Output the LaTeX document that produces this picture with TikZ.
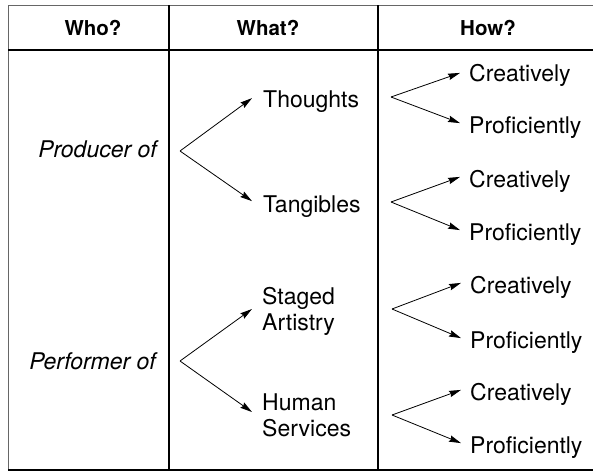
\documentclass[tikz,border=0pt]{standalone}
\usepackage{fontspec}
\setmainfont{TeX Gyre Heros}
\usetikzlibrary{arrows.meta}
\begin{document}
\begin{tikzpicture}[x=1pt,y=-1pt,
  body/.style={inner sep=0pt,font=\fontsize{23}{26}\selectfont},
  bodyit/.style={body,font=\fontsize{23}{26}\selectfont\itshape},
  head/.style={inner sep=0pt,anchor=base,font=\fontsize{20.5}{24}\selectfont\bfseries},
  arr/.style={-{Stealth[length=12pt,width=6.5pt,inset=1.5pt]},line width=0.8pt},
  frame/.style={line width=1.1pt},
  faint/.style={line width=1pt,black!60}
]
\useasboundingbox (0,0) rectangle (593,471);
% frame
\draw[faint] (8,5) -- (593,5);
\draw[faint] (8,5) -- (8,470);
\draw[frame] (8,50) -- (593,50);
\draw[frame] (8,470) -- (593,470);
\draw[frame] (169,5) -- (169,470);
\draw[frame] (378,5) -- (378,470);
% headers
\node[head] (who) at (93,35) {Who?};
\node[head] (what) at (268,35) {What?};
\node[head] (how) at (488,35) {How?};
% who
\node[bodyit,anchor=base east] (prod) at (157,157) {Producer of};
\node[bodyit,anchor=base east] (perf) at (156,369) {Performer of};
% what
\node[body,anchor=base west] (thoughts) at (263,107) {Thoughts};
\node[body,anchor=base west] (tang) at (263,212) {Tangibles};
\node[body,anchor=west,align=left] (staged) at (262,311) {Staged\\Artistry};
\node[body,anchor=west,align=left] (human) at (262,415) {Human\\Services};
% how
\node[body,anchor=base west] (c1) at (469,81) {Creatively};
\node[body,anchor=base west] (p1) at (469,133) {Proficiently};
\node[body,anchor=base west] (c2) at (469,187) {Creatively};
\node[body,anchor=base west] (p2) at (469,240) {Proficiently};
\node[body,anchor=base west] (c3) at (470,293) {Creatively};
\node[body,anchor=base west] (p3) at (470,348) {Proficiently};
\node[body,anchor=base west] (c4) at (470,400) {Creatively};
\node[body,anchor=base west] (p4) at (470,453) {Proficiently};
% fork points
\coordinate (fp) at (180,151);
\coordinate (fq) at (180,361);
\coordinate (f1) at (391,97);
\coordinate (f2) at (391,202);
\coordinate (f3) at (392,309);
\coordinate (f4) at (392,415);
% arrows
\draw[arr] (fp) -- ([xshift=-11pt,yshift=3pt]thoughts.west);
\draw[arr] (fp) -- ([xshift=-11pt,yshift=5pt]tang.west);
\draw[arr] (fq) -- ([xshift=-10pt,yshift=2pt]staged.west);
\draw[arr] (fq) -- ([xshift=-10pt,yshift=3pt]human.west);
\draw[arr] (f1) -- ([xshift=-9pt,yshift=2pt]c1.west);
\draw[arr] (f1) -- ([xshift=-9pt,yshift=4pt]p1.west);
\draw[arr] (f2) -- ([xshift=-9pt,yshift=4pt]c2.west);
\draw[arr] (f2) -- ([xshift=-9pt,yshift=4pt]p2.west);
\draw[arr] (f3) -- ([xshift=-9pt,yshift=4pt]c3.west);
\draw[arr] (f3) -- ([xshift=-9pt,yshift=4pt]p3.west);
\draw[arr] (f4) -- ([xshift=-9pt,yshift=4pt]c4.west);
\draw[arr] (f4) -- ([xshift=-9pt,yshift=4pt]p4.west);
\end{tikzpicture}
\end{document}
